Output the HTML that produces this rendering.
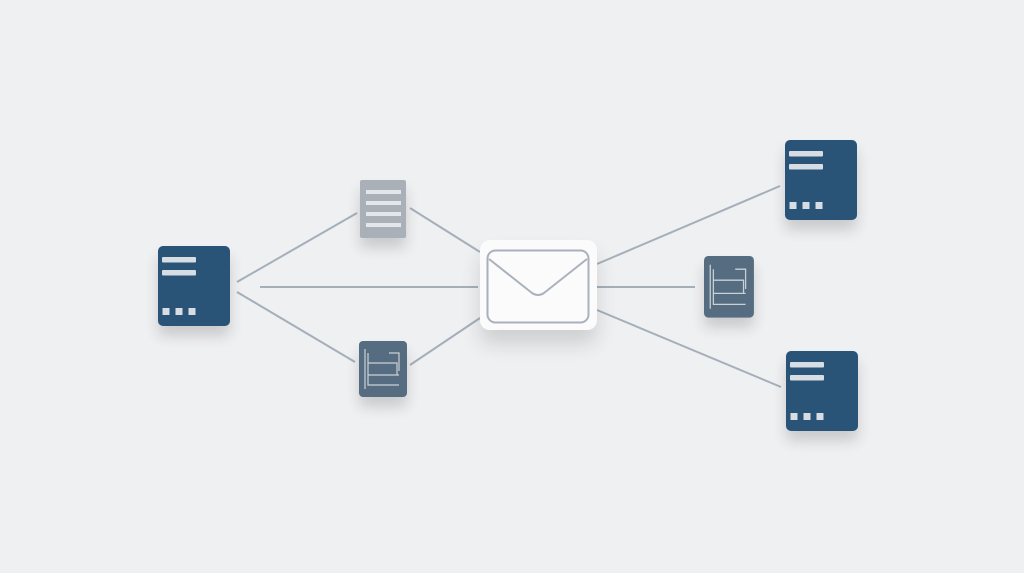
<!DOCTYPE html>
<html><head><style>
html,body{margin:0;padding:0;}
body{width:1024px;height:573px;background:#eff0f2;overflow:hidden;position:relative;font-family:"Liberation Sans",sans-serif;}
</style></head><body>
<svg width="1024" height="573" viewBox="0 0 1024 573" style="position:absolute;left:0;top:0">
<defs>
<filter id="sh" x="-50%" y="-50%" width="200%" height="220%"><feGaussianBlur in="SourceAlpha" stdDeviation="7"/><feOffset dy="10"/><feComponentTransfer><feFuncA type="linear" slope="0.16"/></feComponentTransfer><feMerge><feMergeNode/><feMergeNode in="SourceGraphic"/></feMerge></filter>
<filter id="sh2" x="-50%" y="-50%" width="200%" height="220%"><feGaussianBlur in="SourceAlpha" stdDeviation="10"/><feOffset dy="14"/><feComponentTransfer><feFuncA type="linear" slope="0.14"/></feComponentTransfer><feMerge><feMergeNode/><feMergeNode in="SourceGraphic"/></feMerge></filter>
<g id="srv">
<rect x="0" y="0" width="72" height="80" rx="5" fill="#2c5378"/>
<rect x="4" y="11" width="34" height="5.5" rx="1" fill="#d7dde3"/>
<rect x="4" y="24" width="34" height="5.5" rx="1" fill="#d7dde3"/>
<rect x="4.5" y="62" width="7" height="7" fill="#d7dde3"/>
<rect x="17.5" y="62" width="7" height="7" fill="#d7dde3"/>
<rect x="30.5" y="62" width="7" height="7" fill="#d7dde3"/>
</g>
<g id="cdoc">
<rect x="0" y="0" width="48" height="56" rx="4" fill="#576c81"/>
<g stroke="#c9d1d8" stroke-width="1.2" fill="none">
<path d="M6 8V48M9 12V44H40M9 22H38V34M9 34H40M9 44H20M30 12H40V30"/>
</g>
</g>
</defs>
<g stroke="#a5afba" stroke-width="2" fill="none">
<line x1="237" y1="282" x2="357" y2="213"/>
<line x1="260" y1="287" x2="478" y2="287"/>
<line x1="237" y1="292" x2="355" y2="362"/>
<line x1="410" y1="208" x2="480" y2="252"/>
<line x1="410" y1="365" x2="480" y2="318"/>
<line x1="597" y1="264" x2="780" y2="186"/>
<line x1="597" y1="287" x2="695" y2="287"/>
<line x1="597" y1="310" x2="781" y2="387"/>
</g>
<g filter="url(#sh)"><use href="#srv" x="158" y="246"/></g>
<g filter="url(#sh)"><use href="#srv" x="785" y="140"/></g>
<g filter="url(#sh)"><use href="#srv" x="786" y="351"/></g>
<g filter="url(#sh)">
<rect x="360" y="180" width="46" height="58" rx="2" fill="#a9b0b8"/>
<g fill="#e3e6ea"><rect x="366" y="190" width="35" height="4"/><rect x="366" y="201" width="35" height="4"/><rect x="366" y="212" width="35" height="4"/><rect x="366" y="223" width="35" height="4"/></g>
</g>
<g filter="url(#sh)"><use href="#cdoc" x="359" y="341"/></g>
<g filter="url(#sh)"><use href="#cdoc" x="704" y="256" transform="translate(704 256) scale(1.04 1.1) translate(-704 -256)"/></g>
<g filter="url(#sh2)">
<rect x="480" y="240" width="117" height="90" rx="10" fill="#fbfbfc"/>
</g>
<rect x="487.5" y="250.5" width="101" height="72" rx="8" fill="none" stroke="#a9b2bc" stroke-width="2"/>
<path d="M489 259 L532 293 Q538 297 544 293 L587 259" fill="none" stroke="#a9b2bc" stroke-width="2"/>
</svg>
</body></html>
